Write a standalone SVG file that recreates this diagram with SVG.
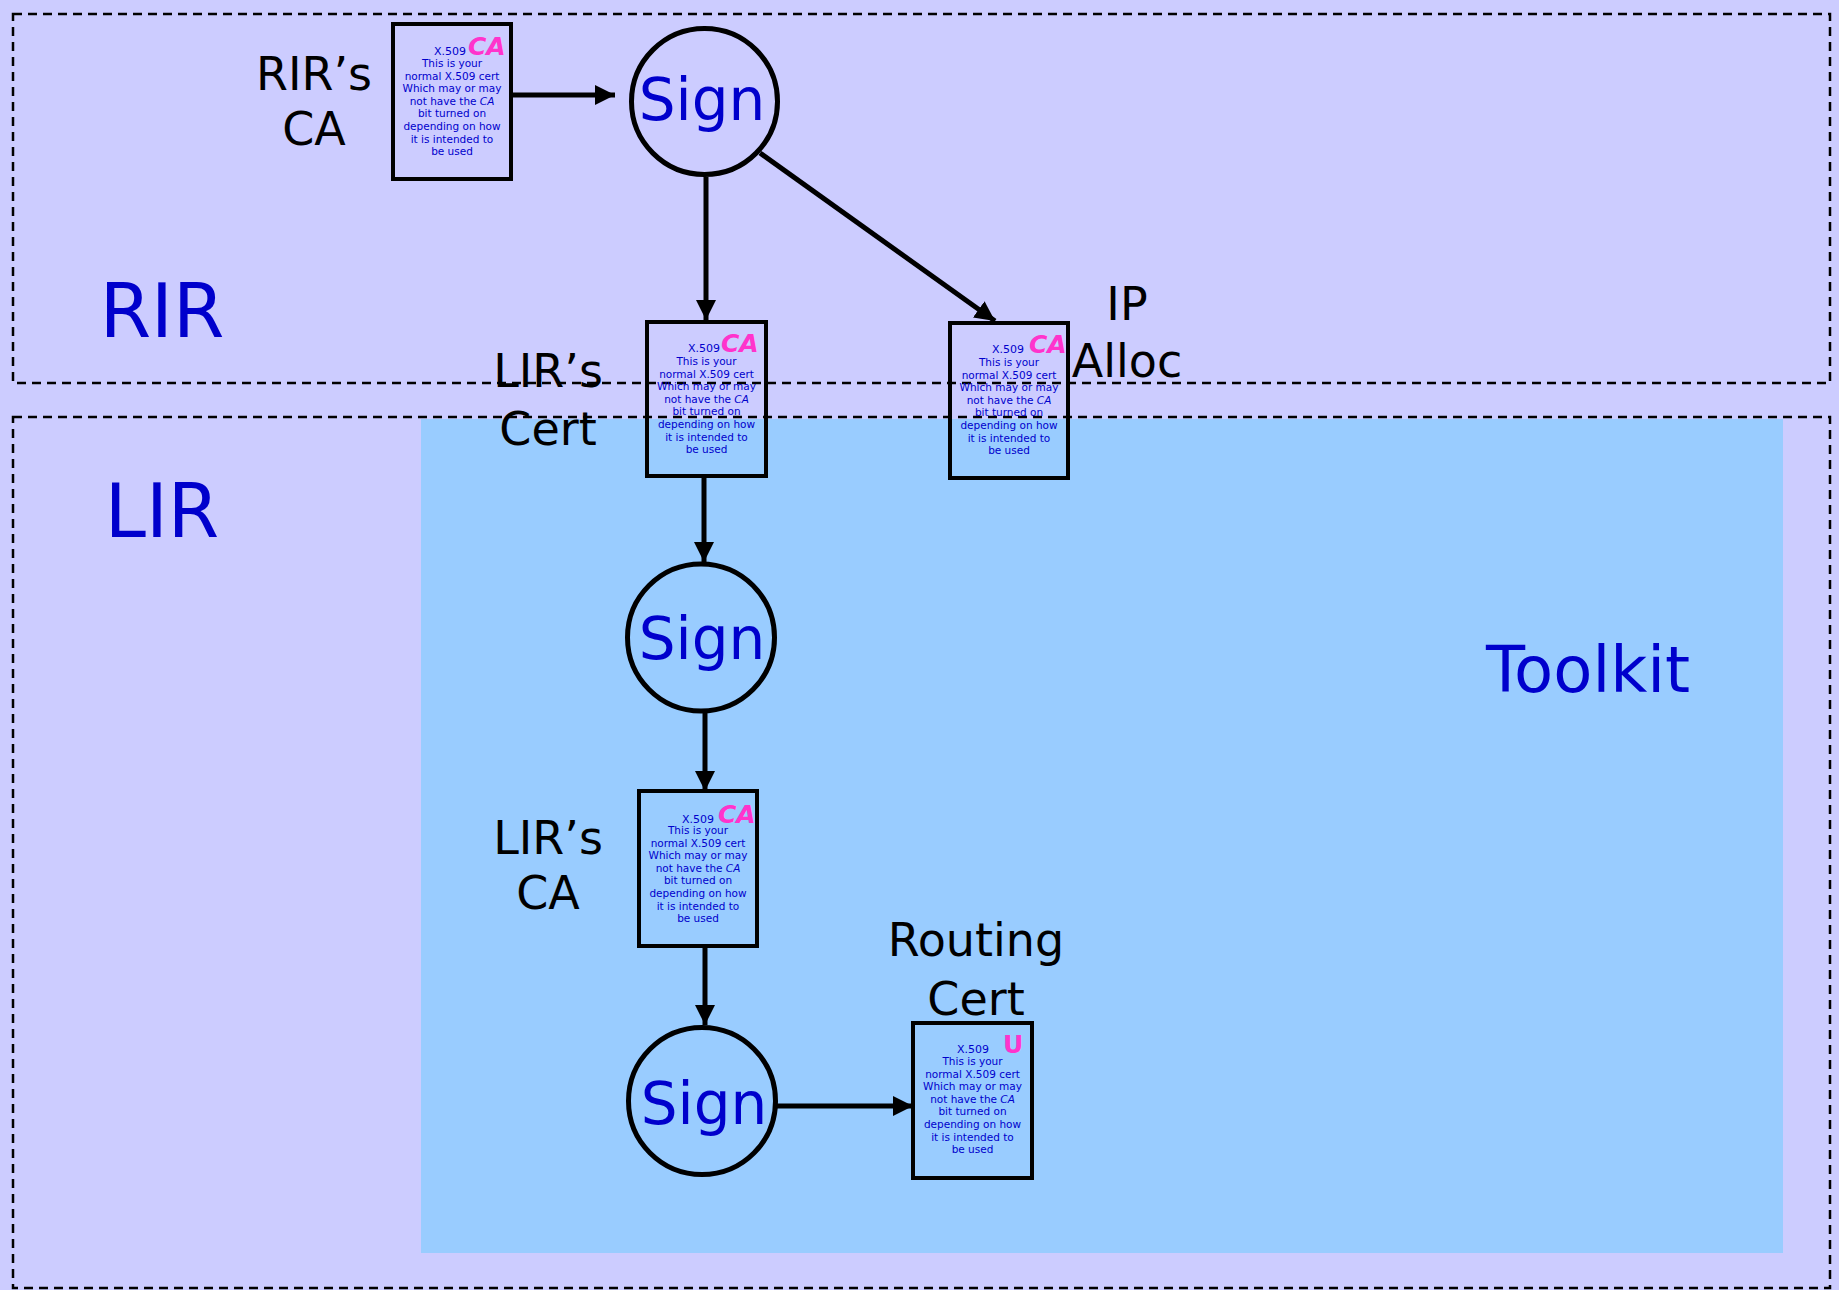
<svg xmlns="http://www.w3.org/2000/svg" width="1839" height="1290" viewBox="0 0 1839 1290">
<defs>
<style>
.zone{fill:none;stroke:#000;stroke-width:2.5;stroke-dasharray:9,6}
.box{fill:none;stroke:#000;stroke-width:4}
.circ{fill:none;stroke:#000;stroke-width:5}
.conn{stroke:#000;stroke-width:5;fill:none;marker-end:url(#ah)}
.t{font-family:'Comic Sans MS','DejaVu Sans',sans-serif}
.lbl{font-size:46px;fill:#000;text-anchor:middle}
.big{font-size:74px;fill:#0000CC;text-anchor:middle}
.sign{font-size:58px;fill:#0000CC;text-anchor:middle}
.cert{font-size:10.5px;fill:#0000CC;text-anchor:middle}
.x509{font-size:11px;fill:#0000CC}
.ca{font-size:25px;fill:#FF33CC;font-weight:bold;font-style:italic}
.u{font-size:25px;fill:#FF33CC;font-weight:bold}
</style>
<marker id="ah" markerUnits="userSpaceOnUse" markerWidth="21" markerHeight="21" refX="20" refY="10" orient="auto">
<path d="M0,0 L20,10 L0,20 z" fill="#000"/>
</marker>
</defs>
<rect width="1839" height="1290" fill="#CCCCFF"/>
<g id="toolkit">
<rect x="421" y="419" width="1362" height="834" fill="#99CCFF"/>
<text class="t big" x="1588" y="692" style="font-size:64px">Toolkit</text>
</g>
<g id="rir-zone">
<rect class="zone" x="13" y="14" width="1817" height="369"/>
<text class="t big" x="162" y="337">RIR</text>
</g>
<g id="lir-zone">
<rect class="zone" x="13" y="417" width="1817" height="871"/>
<text class="t big" x="162" y="537">LIR</text>
</g>
<g id="connectors">
<line class="conn" x1="511" y1="95" x2="615" y2="95"/>
<line class="conn" x1="706" y1="177" x2="706" y2="320"/>
<line class="conn" x1="760" y1="153" x2="995" y2="321"/>
<line class="conn" x1="704" y1="476" x2="704" y2="562"/>
<line class="conn" x1="705" y1="713" x2="705" y2="791"/>
<line class="conn" x1="705" y1="946" x2="705" y2="1025"/>
<line class="conn" x1="777" y1="1106" x2="913" y2="1106"/>
</g>
<g id="rir-ca-cert">
<rect class="box" x="393" y="24" width="118" height="155"/>
<text class="t x509" x="434" y="55">X.509</text>
<text class="t ca" x="468" y="55">CA</text>
<text class="t cert" x="452" y="67"><tspan x="452">This is your</tspan><tspan x="452" dy="12.6">normal X.509 cert</tspan><tspan x="452" dy="12.6">Which may or may</tspan><tspan x="452" dy="12.6">not have the <tspan font-style="italic">CA</tspan></tspan><tspan x="452" dy="12.6">bit turned on</tspan><tspan x="452" dy="12.6">depending on how</tspan><tspan x="452" dy="12.6">it is intended to</tspan><tspan x="452" dy="12.6">be used</tspan></text>
<text class="t lbl" x="314" y="90">RIR’s</text>
<text class="t lbl" x="314" y="145">CA</text>
</g>
<g id="sign1">
<circle class="circ" cx="704.5" cy="101.5" r="73"/>
<text class="t sign" x="702" y="120">Sign</text>
</g>
<g id="lir-cert">
<rect class="box" x="647" y="322" width="119" height="154"/>
<text class="t x509" x="688" y="352">X.509</text>
<text class="t ca" x="721" y="352">CA</text>
<text class="t cert" x="706.5" y="365"><tspan x="706.5">This is your</tspan><tspan x="706.5" dy="12.6">normal X.509 cert</tspan><tspan x="706.5" dy="12.6">Which may or may</tspan><tspan x="706.5" dy="12.6">not have the <tspan font-style="italic">CA</tspan></tspan><tspan x="706.5" dy="12.6">bit turned on</tspan><tspan x="706.5" dy="12.6">depending on how</tspan><tspan x="706.5" dy="12.6">it is intended to</tspan><tspan x="706.5" dy="12.6">be used</tspan></text>
<text class="t lbl" x="548" y="387">LIR’s</text>
<text class="t lbl" x="548" y="445">Cert</text>
</g>
<g id="ip-alloc">
<rect class="box" x="950" y="323" width="118" height="155"/>
<text class="t x509" x="992" y="353">X.509</text>
<text class="t ca" x="1029" y="353">CA</text>
<text class="t cert" x="1009" y="366"><tspan x="1009">This is your</tspan><tspan x="1009" dy="12.6">normal X.509 cert</tspan><tspan x="1009" dy="12.6">Which may or may</tspan><tspan x="1009" dy="12.6">not have the <tspan font-style="italic">CA</tspan></tspan><tspan x="1009" dy="12.6">bit turned on</tspan><tspan x="1009" dy="12.6">depending on how</tspan><tspan x="1009" dy="12.6">it is intended to</tspan><tspan x="1009" dy="12.6">be used</tspan></text>
<text class="t lbl" x="1127" y="320">IP</text>
<text class="t lbl" x="1127" y="377">Alloc</text>
</g>
<g id="sign2">
<circle class="circ" cx="701" cy="637.5" r="73.5"/>
<text class="t sign" x="702" y="659">Sign</text>
</g>
<g id="lir-ca-cert">
<rect class="box" x="639" y="791" width="118" height="155"/>
<text class="t x509" x="682" y="823">X.509</text>
<text class="t ca" x="718" y="823">CA</text>
<text class="t cert" x="698" y="834"><tspan x="698">This is your</tspan><tspan x="698" dy="12.6">normal X.509 cert</tspan><tspan x="698" dy="12.6">Which may or may</tspan><tspan x="698" dy="12.6">not have the <tspan font-style="italic">CA</tspan></tspan><tspan x="698" dy="12.6">bit turned on</tspan><tspan x="698" dy="12.6">depending on how</tspan><tspan x="698" dy="12.6">it is intended to</tspan><tspan x="698" dy="12.6">be used</tspan></text>
<text class="t lbl" x="548" y="854">LIR’s</text>
<text class="t lbl" x="548" y="909">CA</text>
</g>
<g id="sign3">
<circle class="circ" cx="702" cy="1101" r="73.5"/>
<text class="t sign" x="704" y="1124">Sign</text>
</g>
<g id="routing-cert">
<rect class="box" x="913" y="1023" width="119" height="155"/>
<text class="t x509" x="957" y="1053">X.509</text>
<text class="t u" x="1003" y="1053">U</text>
<text class="t cert" x="972.5" y="1065"><tspan x="972.5">This is your</tspan><tspan x="972.5" dy="12.6">normal X.509 cert</tspan><tspan x="972.5" dy="12.6">Which may or may</tspan><tspan x="972.5" dy="12.6">not have the <tspan font-style="italic">CA</tspan></tspan><tspan x="972.5" dy="12.6">bit turned on</tspan><tspan x="972.5" dy="12.6">depending on how</tspan><tspan x="972.5" dy="12.6">it is intended to</tspan><tspan x="972.5" dy="12.6">be used</tspan></text>
<text class="t lbl" x="976" y="956">Routing</text>
<text class="t lbl" x="976" y="1015">Cert</text>
</g>
</svg>
